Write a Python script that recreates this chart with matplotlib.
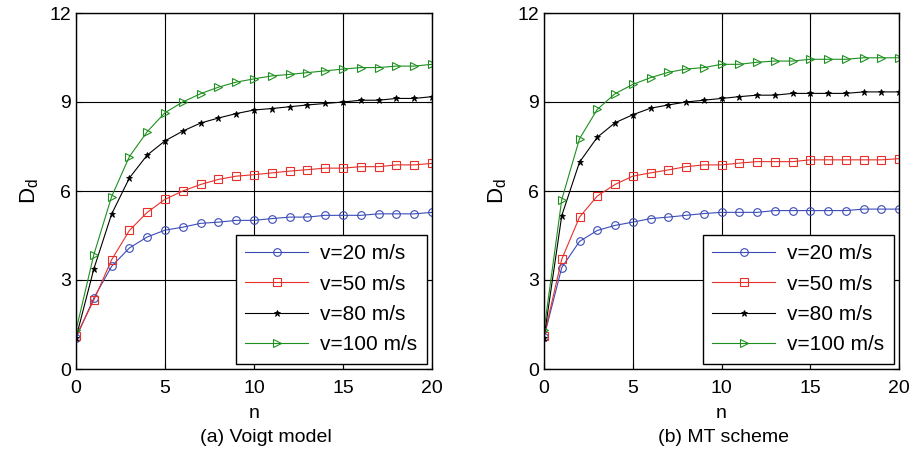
import numpy as np
import matplotlib
matplotlib.use("Agg")
import matplotlib.pyplot as plt

plt.rcParams['font.family'] = ['Liberation Sans', 'DejaVu Sans']

n = np.arange(0, 21)

# (a) Voigt model
voigt_v20 = [1.04, 2.39, 3.46, 4.08, 4.45, 4.68, 4.78, 4.91, 4.95, 5.01, 5.01,
             5.07, 5.12, 5.12, 5.18, 5.18, 5.18, 5.23, 5.23, 5.23, 5.28]
voigt_v50 = [1.10, 2.32, 3.68, 4.67, 5.28, 5.72, 6.00, 6.22, 6.39, 6.50, 6.55,
             6.61, 6.67, 6.72, 6.77, 6.77, 6.82, 6.82, 6.88, 6.88, 6.93]
voigt_v80 = [1.05, 3.37, 5.22, 6.44, 7.21, 7.69, 8.02, 8.29, 8.46, 8.61, 8.73,
             8.78, 8.84, 8.90, 8.95, 9.00, 9.06, 9.06, 9.12, 9.12, 9.18]
voigt_v100 = [1.30, 3.85, 5.81, 7.16, 8.00, 8.64, 9.00, 9.28, 9.50, 9.67, 9.78,
              9.88, 9.93, 9.99, 10.05, 10.11, 10.16, 10.16, 10.21, 10.21, 10.27]

# (b) MT scheme
mt_v20 = [1.07, 3.42, 4.30, 4.67, 4.84, 4.95, 5.07, 5.12, 5.18, 5.24, 5.28,
          5.28, 5.28, 5.34, 5.34, 5.34, 5.34, 5.34, 5.39, 5.39, 5.39]
mt_v50 = [1.10, 3.70, 5.12, 5.83, 6.22, 6.50, 6.61, 6.71, 6.82, 6.88, 6.88,
          6.94, 6.99, 6.99, 6.99, 7.05, 7.05, 7.05, 7.05, 7.05, 7.09]
mt_v80 = [1.05, 5.17, 6.97, 7.81, 8.30, 8.57, 8.79, 8.90, 9.00, 9.06, 9.12,
          9.18, 9.23, 9.23, 9.29, 9.29, 9.29, 9.29, 9.34, 9.34, 9.34]
mt_v100 = [1.30, 5.71, 7.76, 8.75, 9.28, 9.59, 9.82, 10.00, 10.11, 10.16, 10.27,
           10.27, 10.34, 10.38, 10.38, 10.44, 10.44, 10.44, 10.49, 10.49, 10.49]

labels = ['v=20 m/s', 'v=50 m/s', 'v=80 m/s', 'v=100 m/s']
xticks = [0, 5, 10, 15, 20]
yticks = [0, 3, 6, 9, 12]
captions = ['(a) Voigt model', '(b) MT scheme']

styles = [
    dict(color='#3b4cb8', marker='o', mfc='none', ms=5.5, mew=0.8),
    dict(color='#e8302a', marker='s', mfc='none', ms=5.5, mew=0.8),
    dict(color='black', marker='*', ms=5, mew=0.6),
    dict(color='#1e8f1e', marker='>', mfc='none', ms=5.5, mew=0.8),
]

fig = plt.figure(figsize=(9.18, 4.61), dpi=100)
ax_a = fig.add_axes([76 / 918, 92 / 461, 356 / 918, 356 / 461])
ax_b = fig.add_axes([544 / 918, 92 / 461, 355 / 918, 356 / 461])

# caption centres in pixels
panels = [
    (ax_a, [voigt_v20, voigt_v50, voigt_v80, voigt_v100], 266),
    (ax_b, [mt_v20, mt_v50, mt_v80, mt_v100], 724),
]

for (ax, series, cx), cap in zip(panels, captions):
    for vals, lab, st in zip(series, labels, styles):
        ax.plot(n, vals, lw=0.8, label=lab, **st)
    ax.set_xlim(0, 20)
    ax.set_ylim(0, 12)
    ax.set_xticks(xticks)
    ax.set_yticks(yticks)
    ax.grid(True, color='black', lw=0.8, ls='-')
    ax.tick_params(direction='in', top=True, right=True, labelsize=14, length=4)
    ax.tick_params(axis='x', pad=8)
    for s in ax.spines.values():
        s.set_linewidth(1.0)
    ax.set_xlabel('n', fontsize=14, labelpad=6)
    ax.set_ylabel(r'$\mathregular{D_d}$', fontsize=16, labelpad=6)
    leg = ax.legend(loc='lower right', fontsize=15, fancybox=False, framealpha=1,
                    edgecolor='black', borderaxespad=0.25, handlelength=3.0,
                    labelspacing=0.55, borderpad=0.45, handletextpad=0.6)
    leg.get_frame().set_linewidth(1.0)
    fig.text(cx / 918, (461 - 437) / 461, cap, fontsize=14, ha='center', va='center')

plt.savefig('out.png', dpi=100)
